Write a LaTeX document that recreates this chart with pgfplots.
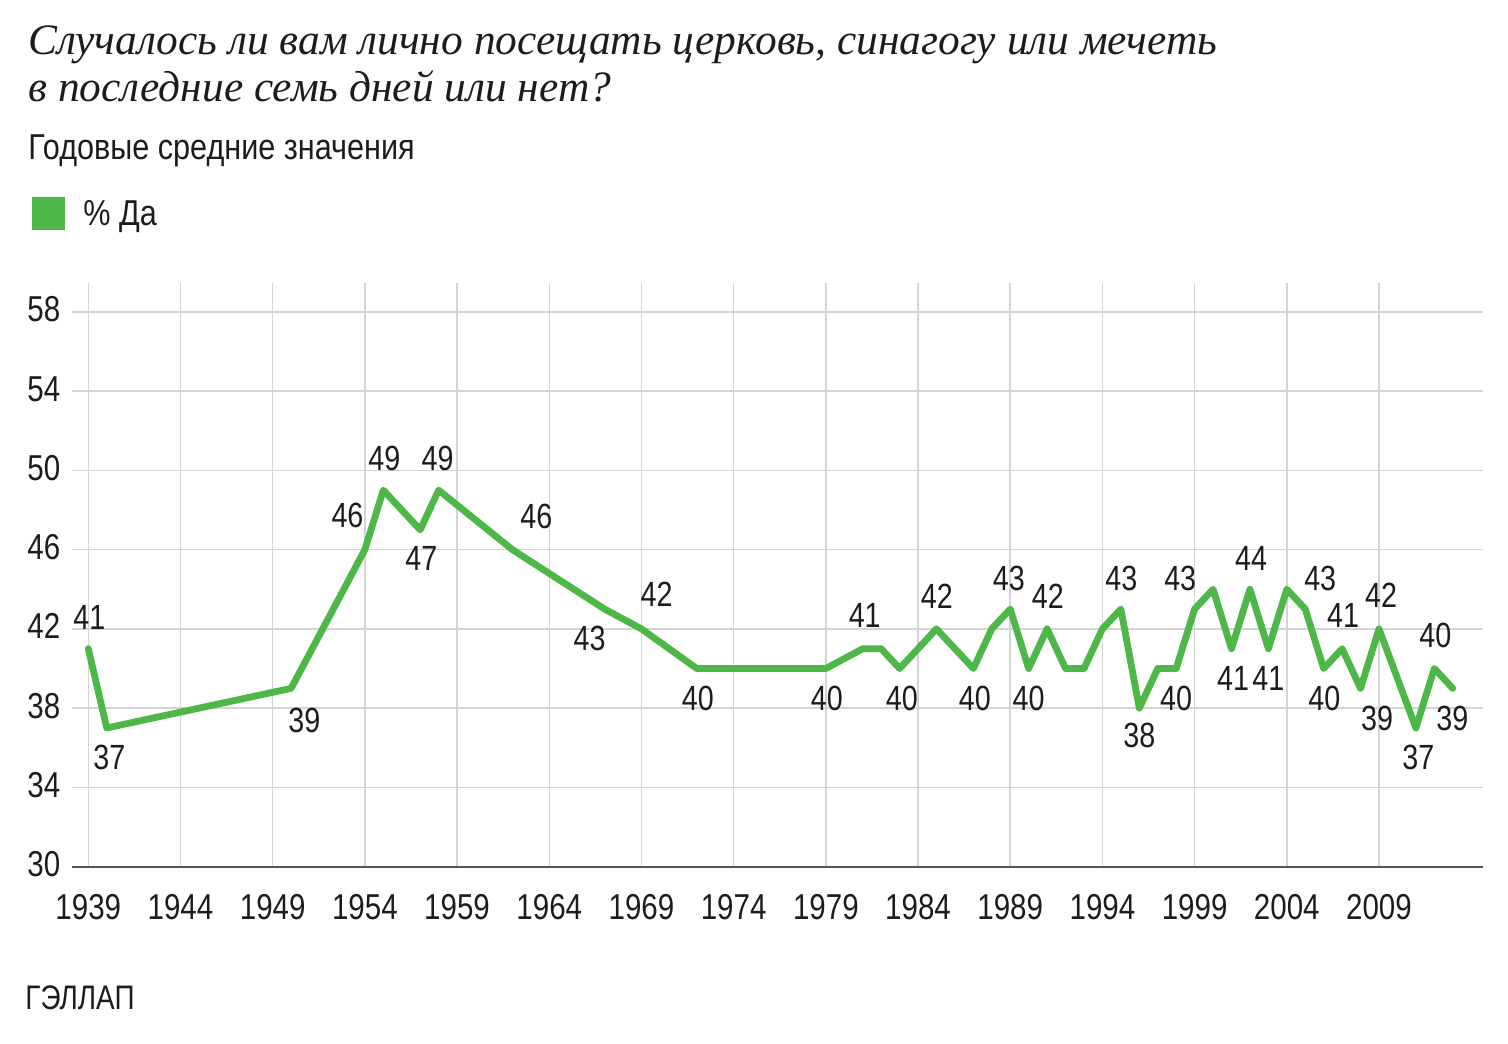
\documentclass[border=0pt]{standalone}
\usepackage{fontspec}
\usepackage{pgfplots}
\usepackage{pgfplotstable}
\pgfplotsset{compat=1.18}

\setmainfont{Liberation Sans}
\newfontfamily\numfont{Liberation Sans}[FakeStretch=0.82]
\newfontfamily\subfont{Liberation Sans}[FakeStretch=0.85]
\newfontfamily\titlefont{Liberation Serif}

\definecolor{lineGreen}{RGB}{77,183,72}
\definecolor{gridGray}{RGB}{212,212,212}
\definecolor{axisGray}{RGB}{85,85,85}
\definecolor{textDark}{RGB}{28,28,28}

% Annual averages, % "yes"
\pgfplotstableread{
year val
1939 41
1940 37
1950 39
1954 46
1955 49
1957 47
1958 49
1962 46
1967 43
1969 42
1972 40
1979 40
1981 41
1982 41
1983 40
1985 42
1987 40
1988 42
1989 43
1990 40
1991 42
1992 40
1993 40
1994 42
1995 43
1996 38
1997 40
1998 40
1999 43
2000 44
2001 41
2002 44
2003 41
2004 44
2005 43
2006 40
2007 41
2008 39
2009 42
2011 37
2012 40
2013 39
}\attendance

% Labelled points with label offsets (pt)
\pgfplotstableread{
year val dx dy
1939 41 0.5 15.5
1940 37 1.3 -14.9
1950 39 6.6 -16.2
1954 46 -8.7 17
1955 49 0.5 15.7
1957 47 0.6 -14.5
1958 49 -0.5 15.7
1962 46 12 16.5
1967 43 -7.5 -14.9
1969 42 7.6 17.1
1972 40 0.5 -15.1
1979 40 0.5 -15.1
1981 41 1 16.5
1983 40 1.1 -15.1
1985 42 0.2 16.1
1987 40 0.7 -15.1
1989 43 -0.7 15.2
1990 40 0 -15.1
1991 42 0.4 16.1
1995 43 0.2 15.2
1996 38 0 -13.8
1998 40 0 -15.1
1999 43 -7.2 15.2
2002 44 0.6 15.2
2001 41 0.8 -15
2003 41 0 -15
2005 43 7.5 15.2
2006 40 0.3 -15.1
2007 41 0.5 16.5
2008 39 8.3 -15.2
2009 42 1.1 16.6
2011 37 1.2 -14.9
2012 40 0.5 16.4
2013 39 -0.2 -15.2
}\labelpts

\begin{document}
\begin{tikzpicture}
\useasboundingbox (0,0) rectangle (754pt,521.5pt);

% Heading
\node[anchor=base west, inner sep=0pt, text=textDark,
      font=\titlefont\itshape\fontsize{21.7}{26}\selectfont] at (14pt,494pt)
  {Случалось ли вам лично посещать церковь, синагогу или мечеть};
\node[anchor=base west, inner sep=0pt, text=textDark,
      font=\titlefont\itshape\fontsize{21.7}{26}\selectfont] at (14pt,470.5pt)
  {в последние семь дней или нет?};
\node[anchor=base west, inner sep=0pt, text=textDark,
      font=\subfont\fontsize{18}{20}\selectfont] at (14pt,441.5pt)
  {Годовые средние значения};

% Legend
\fill[lineGreen] (16pt,406.5pt) rectangle (32.5pt,423pt);
\node[anchor=base west, inner sep=0pt, text=textDark,
      font=\subfont\fontsize{18}{20}\selectfont] at (41.5pt,408.5pt) {\% Да};

% Source
\node[anchor=base west, inner sep=0pt, text=textDark,
      font=\numfont\fontsize{17}{19}\selectfont] at (12.5pt,16.5pt) {ГЭЛЛАП};

\begin{axis}[
  at={(36pt,88.15pt)}, anchor=south west,
  scale only axis, width=705.65pt, height=292pt,
  xmin=1938.116, xmax=2014.657, ymin=30, ymax=59.47,
  xtick={1939,1944,...,2009},
  ytick={30,34,...,58},
  grid=major,
  major grid style={gridGray, line width=0.75pt},
  major tick length=0pt,
  axis line style={draw=none},
  /pgf/number format/1000 sep={},
  /pgf/number format/assume math mode=true,
  ticklabel style={font=\numfont\fontsize{18}{20}\selectfont, text=textDark, inner sep=0pt},
  xticklabel style={anchor=base, yshift=-26.65pt},
  yticklabel style={anchor=base east, xshift=-5.65pt, yshift=-5pt},
  clip=false,
]
\addplot[lineGreen, line width=3.4pt, line join=round, line cap=round]
  table[x=year, y=val] {\attendance};

\addplot[draw=none, mark=none,
  nodes near coords,
  point meta=explicit,
  visualization depends on={\thisrow{dx} \as \labdx},
  visualization depends on={\thisrow{dy} \as \labdy},
  every node near coord/.append style={anchor=center, inner sep=0pt,
     xshift=\labdx pt, yshift=\labdy pt, text=textDark,
     font=\numfont\fontsize{17.5}{19}\selectfont},
] table[x=year, y=val, meta=val] {\labelpts};

\draw[axisGray, line width=1pt] (rel axis cs:0,0) -- (rel axis cs:1,0);
\end{axis}
\end{tikzpicture}
\end{document}
